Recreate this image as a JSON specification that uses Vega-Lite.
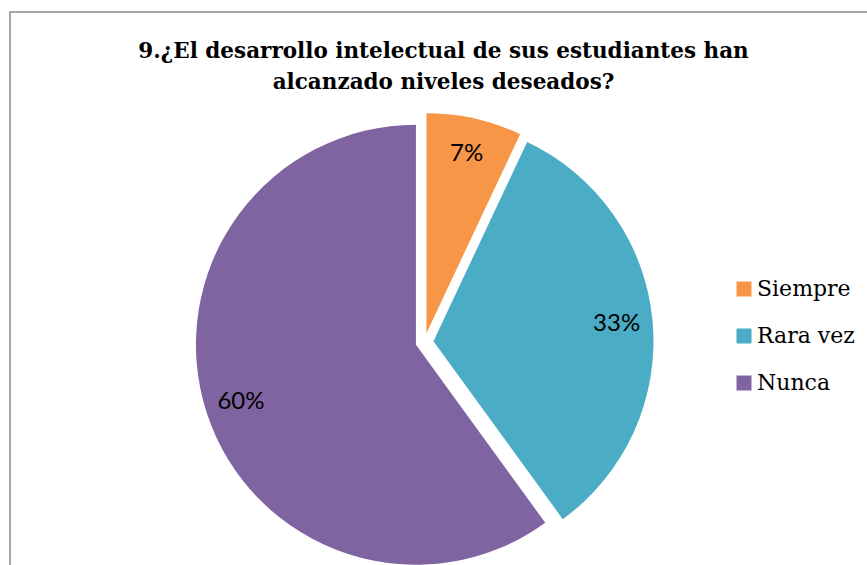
{
  "$schema": "https://vega.github.io/schema/vega-lite/v6.json",
  "autosize": {"type": "none"},
  "width": 829,
  "height": 660,
  "padding": {"left": 10, "top": 12, "right": 28, "bottom": -107},
  "background": "white",
  "title": {
    "text": ["9.¿El desarrollo intelectual de sus estudiantes han", "alcanzado niveles deseados?"],
    "font": "DejaVu Serif",
    "fontSize": 21.5,
    "fontWeight": "bold",
    "color": "black",
    "anchor": "middle",
    "frame": "group",
    "dx": 19,
    "baseline": "alphabetic",
    "offset": -99,
    "lineHeight": 31
  },
  "data": {
    "values": [
      {"respuesta": "Siempre", "valor": 7, "etiqueta": "7%", "orden": 1},
      {"respuesta": "Rara vez", "valor": 33, "etiqueta": "33%", "orden": 2},
      {"respuesta": "Nunca", "valor": 60, "etiqueta": "60%", "orden": 3}
    ]
  },
  "layer": [
    {
      "data": {"values": [{"marco": "borde"}]},
      "mark": {
        "type": "rect",
        "fillOpacity": 0,
        "stroke": "#8a8a8a",
        "strokeWidth": 1.5,
        "x": 0,
        "x2": {"expr": "width + 60"},
        "y": 0,
        "y2": "height",
        "strokeDash": [889, 1549, 700]
      },
      "encoding": {}
    },
    {
      "mark": {
        "type": "arc",
        "outerRadius": 220,
        "xOffset": {"expr": "9*sin(scale('theta',(datum.valor_start+datum.valor_end)/2))"},
        "yOffset": {"expr": "-9*cos(scale('theta',(datum.valor_start+datum.valor_end)/2))"}
      },
      "encoding": {
        "theta": {"field": "valor", "type": "quantitative", "stack": true},
        "order": {"field": "orden", "type": "quantitative"},
        "color": {
          "field": "respuesta",
          "type": "nominal",
          "scale": {"domain": ["Siempre", "Rara vez", "Nunca"], "range": ["#F79646", "#4BACC6", "#8064A2"]},
          "legend": {
            "title": null,
            "orient": "none",
            "legendX": 723,
            "legendY": 266,
            "symbolType": "square",
            "symbolSize": 225,
            "symbolStrokeWidth": 0,
            "labelFont": "DejaVu Serif",
            "labelFontSize": 22,
            "labelColor": "black",
            "labelOffset": 2,
            "rowPadding": 25,
            "padding": 0
          }
        }
      }
    },
    {
      "mark": {
        "type": "text",
        "radius": 184,
        "font": "Lato",
        "fontSize": 24,
        "fill": "black",
        "align": "center",
        "baseline": "middle",
        "xOffset": {"expr": "9*sin(scale('theta',(datum.valor_start+datum.valor_end)/2))"},
        "yOffset": {"expr": "-9*cos(scale('theta',(datum.valor_start+datum.valor_end)/2))"}
      },
      "encoding": {
        "theta": {"field": "valor", "type": "quantitative", "stack": true},
        "order": {"field": "orden", "type": "quantitative"},
        "text": {"field": "etiqueta", "type": "nominal"}
      }
    }
  ]
}
